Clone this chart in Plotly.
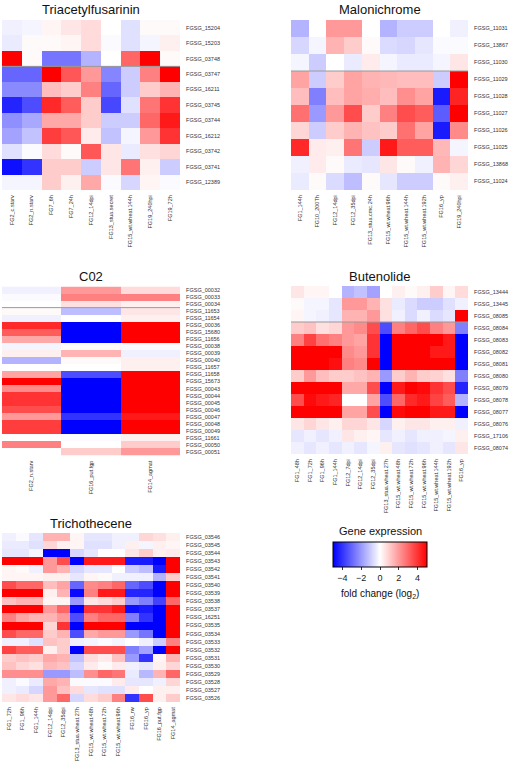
import plotly.graph_objects as go

W, H = 512, 766

# ---------------- data ----------------
tri_title = "Triacetylfusarinin"
tri_cols = ["FG2_c.starv", "FG2_n.starv", "FG7_6h", "FG7_24h", "FG12_14dpi",
            "FG13_stua.secret", "FG15_wt.wheat.144h", "FG19_240hpi", "FG19_72h"]
tri_rows = ["FGSG_15204", "FGSG_15203", "FGSG_03748", "FGSG_03747", "FGSG_16211",
            "FGSG_03745", "FGSG_03744", "FGSG_16212", "FGSG_03742", "FGSG_03741", "FGSG_12389"]
tri_vals = [
    [-0.3, -0.2, 0.2, 0.5, 0.7, 0.0, -0.6, 0.1, 0.1],
    [-0.4, 0.1, 0.1, 0.2, 0.7, -0.1, -0.6, -0.2, 0.3],
    [5.0, 0.1, -2.7, -2.7, -1.5, 0.0, 3.0, 5.0, 0.1],
    [-3.0, -3.0, 5.0, 3.3, 2.0, -2.4, -1.0, 2.5, 5.0],
    [-2.3, -2.3, 1.3, 1.0, 2.5, -3.0, -1.0, 1.0, 1.5],
    [-4.3, -3.5, 4.2, 3.2, 1.0, -3.6, -0.6, 2.7, 4.0],
    [-2.2, -1.7, 1.7, 1.7, 1.0, -1.0, -1.0, 3.0, 4.5],
    [-1.8, -1.2, 3.8, 3.3, 0.4, -1.2, -0.2, 2.0, 4.0],
    [-0.6, -0.1, 0.7, 0.1, 3.3, 0.5, -0.4, 0.6, 0.8],
    [-4.7, -4.0, 1.0, 1.0, -1.0, 0.5, 2.7, 0.3, -1.0],
    [-0.2, -0.2, 1.0, 0.3, 1.7, -0.1, -0.8, 0.2, -0.1],
]

mal_title = "Malonichrome"
mal_cols = ["FG1_144h", "FG10_200Th", "FG12_14dpi", "FG12_35dpi", "FG13_stua.cmc.24h",
            "FG15_wt.wheat.96h", "FG15_wt.wheat.144h", "FG15_wt.wheat.192h", "FG16_yp", "FG19_240hpi"]
mal_rows = ["FGSG_11031", "FGSG_13867", "FGSG_11030", "FGSG_11029", "FGSG_11028",
            "FGSG_11027", "FGSG_11026", "FGSG_11025", "FGSG_13868", "FGSG_11024"]
mal_vals = [
    [-1.5, 0.0, 2.0, 2.0, 0.0, -1.5, -1.0, -1.0, 0.0, -0.3],
    [-0.8, -0.2, 1.5, 1.0, 0.1, -0.7, -0.8, -0.5, -0.1, -0.1],
    [-0.2, -1.0, 0.0, -0.4, 0.4, -0.2, -0.4, -0.4, -0.2, 0.5],
    [1.8, -1.0, 1.0, 1.8, 1.5, 1.4, 1.3, 1.3, -1.0, 5.0],
    [1.3, -2.5, 1.3, 1.8, 1.6, 1.3, 2.2, 1.8, -4.5, 4.3],
    [2.8, -2.0, 2.0, 3.5, 1.0, 2.5, 3.5, 3.2, -3.2, 5.0],
    [0.8, -1.0, 1.0, 1.5, 1.2, 1.0, 2.8, 1.8, -4.5, 2.3],
    [4.2, 0.4, 0.3, 2.7, -1.0, 4.5, 3.2, 3.2, 1.4, -0.2],
    [-0.3, 0.4, 0.1, -0.4, -0.5, 0.5, 0.1, -0.3, 1.5, 0.8],
    [-0.4, 0.1, -0.7, -1.3, 0.1, -0.5, -1.0, -1.0, 0.1, 0.3],
]

c02_title = "C02"
c02_cols = ["FG2_n.starv", "FG16_put.fgp", "FG14_agmat"]
c02_rows = ["FGSG_00032", "FGSG_00033", "FGSG_00034", "FGSG_11653", "FGSG_11654",
            "FGSG_00036", "FGSG_15680", "FGSG_11656", "FGSG_00038", "FGSG_00039",
            "FGSG_00040", "FGSG_11657", "FGSG_11658", "FGSG_15673", "FGSG_00043",
            "FGSG_00044", "FGSG_00045", "FGSG_00046", "FGSG_00047", "FGSG_00048",
            "FGSG_00049", "FGSG_11661", "FGSG_00050", "FGSG_00051"]
c02_vals = [
    [-0.3, 2.0, 0.7],
    [-0.1, 2.5, 2.5],
    [0.0, 0.6, 0.3],
    [0.1, -1.3, 0.5],
    [-0.3, 0.0, 0.3],
    [4.2, -5.0, 5.0],
    [3.2, -5.0, 5.0],
    [1.7, -5.0, 5.0],
    [-0.2, 0.1, -0.1],
    [0.3, 1.5, -0.3],
    [-1.5, 0.1, 0.3],
    [0.0, 0.0, 0.3],
    [1.8, -3.5, 5.0],
    [5.0, -5.0, 5.0],
    [2.3, -5.0, 5.0],
    [4.0, -5.0, 5.0],
    [4.0, -5.0, 5.0],
    [3.5, -5.0, 5.0],
    [2.0, -4.0, 4.5],
    [3.8, -5.0, 5.0],
    [3.8, -5.0, 5.0],
    [0.0, -0.1, 0.3],
    [2.5, 0.0, 1.0],
    [0.0, 1.0, 2.0],
]

but_title = "Butenolide"
but_cols = ["FG1_48h", "FG1_72h", "FG1_96h", "FG1_144h", "FG12_7dpi", "FG12_14dpi",
            "FG12_35dpi", "FG13_stua.wheat.27h", "FG15_wt.wheat.48h", "FG15_wt.wheat.72h",
            "FG15_wt.wheat.96h", "FG15_wt.wheat.144h", "FG15_wt.wheat.192h", "FG16_yp"]
but_rows = ["FGSG_13444", "FGSG_13445", "FGSG_08085", "FGSG_08084", "FGSG_08083",
            "FGSG_08082", "FGSG_08081", "FGSG_08080", "FGSG_08079", "FGSG_08078",
            "FGSG_08077", "FGSG_08076", "FGSG_17106", "FGSG_08074"]
but_vals = [
    [0.5, 0.2, 0.2, 0.0, -1.5, -1.2, -1.8, 0.0, 0.3, 0.1, 0.3, 1.0, 0.2, 0.7],
    [0.1, -0.2, -0.2, -0.5, 2.0, 2.0, 1.5, 0.6, -0.4, -0.7, -1.0, -1.0, -0.6, -0.3],
    [0.2, -0.2, -0.3, -0.5, 1.5, 1.5, 2.0, 0.6, -0.3, -0.7, -0.3, -0.7, -0.5, 5.0],
    [1.0, 1.2, 0.6, 0.8, 2.0, 2.3, 3.5, -3.5, 2.5, 3.0, 3.5, 2.5, 2.0, -2.5],
    [2.5, 3.7, 2.8, 2.5, 2.0, 1.8, 4.0, -5.0, 5.0, 5.0, 5.0, 5.0, 4.5, -5.0],
    [5.0, 5.0, 5.0, 5.0, 2.3, 2.0, 4.0, -5.0, 5.0, 5.0, 5.0, 4.5, 4.5, -5.0],
    [5.0, 5.0, 5.0, 4.7, 2.5, 2.3, 5.0, -5.0, 5.0, 5.0, 5.0, 5.0, 5.0, -5.0],
    [1.0, 2.0, 1.3, 1.0, 1.0, 1.2, 1.5, -2.0, 1.0, 1.5, 1.0, 0.9, 0.6, -2.5],
    [5.0, 5.0, 5.0, 5.0, 1.7, 1.7, 3.5, -5.0, 4.5, 5.0, 4.8, 4.0, 3.5, -4.3],
    [3.5, 4.8, 4.5, 4.3, 0.0, 0.0, 1.8, -3.5, 3.0, 4.2, 4.5, 3.7, 3.2, -1.5],
    [5.0, 5.0, 5.0, 5.0, 1.8, 1.8, 3.5, -5.0, 4.8, 5.0, 5.0, 4.5, 4.5, -5.0],
    [0.5, 0.8, 0.5, 0.3, 0.8, 0.8, 0.5, -0.8, 0.3, 0.5, 0.5, 0.3, 0.3, -0.3],
    [-0.5, -0.3, -0.5, -0.3, 0.5, 0.3, 0.2, -0.5, -0.3, -0.5, -0.3, -0.3, -0.2, 0.3],
    [-0.3, -0.5, -0.3, -0.5, -0.3, -0.5, -0.2, 0.3, -0.5, -0.6, -0.5, -0.3, -0.5, 0.5],
]

tric_title = "Trichothecene"
tric_cols = ["FG1_72h", "FG1_96h", "FG1_144h", "FG12_14dpi", "FG12_35dpi",
             "FG13_stua.wheat.27h", "FG15_wt.wheat.48h", "FG15_wt.wheat.72h",
             "FG15_wt.wheat.96h", "FG16_rw", "FG16_yp", "FG16_put.fgp", "FG14_agmat"]
tric_rows = ["FGSG_03546", "FGSG_03545", "FGSG_03544", "FGSG_03543", "FGSG_03542",
             "FGSG_03541", "FGSG_03540", "FGSG_03539", "FGSG_03538", "FGSG_03537",
             "FGSG_16251", "FGSG_03535", "FGSG_03534", "FGSG_03533", "FGSG_03532",
             "FGSG_03531", "FGSG_03530", "FGSG_03529", "FGSG_03528", "FGSG_03527", "FGSG_03526"]
tric_vals = [
    [-0.3, -0.1, -0.5, 1.5, 1.5, 0.2, -0.5, -0.5, -0.3, -0.3, 0.8, 0.6, 0.3],
    [-0.4, -0.4, -0.6, 0.8, 0.3, 0.2, -0.6, -0.6, -0.3, 0.3, -0.2, 0.3, 0.2],
    [-0.5, -0.5, -0.2, -5.0, -5.0, -0.8, -0.5, 0.0, 0.0, 0.5, 1.0, 0.3, 0.4],
    [5.0, 5.0, 5.0, 2.0, 3.5, -5.0, 4.5, 4.5, 4.5, -4.5, -4.5, -5.0, 5.0],
    [0.2, 0.1, -0.3, 2.0, 1.5, -0.8, -0.5, -0.5, 0.0, -1.0, -1.3, -4.5, 5.0],
    [0.2, 0.2, 0.2, 0.3, 0.3, -0.5, 0.2, 0.1, -0.3, -0.3, -0.3, -1.5, 1.0],
    [3.5, 3.0, 3.0, 1.3, 1.8, -3.0, 2.3, 2.5, 3.0, -3.0, -3.5, -5.0, 5.0],
    [5.0, 5.0, 5.0, 0.3, 1.5, -4.8, 2.5, 4.5, 4.5, -4.3, -4.3, -5.0, 5.0],
    [1.2, 1.5, 1.5, 0.2, 0.2, -2.0, 0.5, 0.7, 1.0, -2.0, -2.5, -3.7, 3.0],
    [5.0, 5.0, 5.0, 2.0, 3.0, -5.0, 4.0, 4.0, 4.5, -4.7, -4.5, -5.0, 5.0],
    [2.5, 1.8, 1.5, 1.5, 2.0, -3.5, 2.5, 3.0, 3.0, -2.5, -4.0, -5.0, 5.0],
    [5.0, 5.0, 5.0, 0.8, 4.0, -5.0, 5.0, 5.0, 5.0, -5.0, -5.0, -5.0, 5.0],
    [3.5, 3.0, 3.0, 1.0, 1.5, -3.5, 1.7, 2.0, 2.0, -2.0, -2.7, -5.0, 5.0],
    [-0.3, -0.3, -0.6, 1.2, 1.0, -0.3, -0.2, -0.1, -0.2, 0.0, -0.3, -1.0, 2.5],
    [3.7, 3.2, 3.2, 0.3, 1.0, -5.0, 3.5, 3.5, 3.5, -2.5, -1.8, -5.0, 5.0],
    [1.0, 1.2, 1.0, 1.7, 1.5, -1.2, 0.7, 0.4, 1.2, -2.0, -4.0, 0.2, 1.5],
    [1.2, 0.8, 0.6, 1.4, 1.2, -0.8, 0.4, 0.1, 0.4, -0.3, -0.5, 0.3, 0.8],
    [2.2, 2.2, 2.2, -2.0, -2.0, -1.3, 2.2, 3.0, 2.7, -0.4, -1.4, 1.5, 3.0],
    [-0.3, -0.1, -0.4, 1.7, 1.5, -0.1, -0.1, -0.1, 0.4, -0.5, -0.5, -0.3, 0.8],
    [-0.3, -0.4, -0.8, 2.0, 1.2, 0.7, -0.5, -0.6, -0.6, 0.4, 0.0, 0.3, 0.3],
    [0.5, 0.7, 0.5, 2.0, 3.0, -0.8, 0.7, 1.0, 2.5, -4.0, 3.5, 0.3, 1.0],
]

cbar_ticks = [-4, -2, 0, 2, 4]

# ---------------- layout (pixel boxes) ----------------
panels = [
    (tri_title, tri_cols, tri_rows, tri_vals, (2, 180, 20, 190), 3),
    (mal_title, mal_cols, mal_rows, mal_vals, (291, 468, 20, 190), 3),
    (c02_title, c02_cols, c02_rows, c02_vals, (2, 180, 286.5, 455.5), 3),
    (but_title, but_cols, but_rows, but_vals, (291, 468, 286, 454), 3),
    (tric_title, tric_cols, tric_rows, tric_vals, (2, 180, 533, 702), None),
]

FONT = "Liberation Sans, Arial, Helvetica, sans-serif"
fig = go.Figure()
layout = dict(
    width=W, height=H, margin=dict(l=0, r=0, t=0, b=0),
    paper_bgcolor="white", plot_bgcolor="white",
    font=dict(family=FONT, color="#333"),
    showlegend=False,
    coloraxis=dict(
        cmin=-5, cmax=5,
        colorscale=[[0, "rgb(0,0,255)"], [0.5, "rgb(255,255,255)"], [1, "rgb(255,0,0)"]],
        colorbar=dict(
            orientation="h", x=380 / W, xanchor="center", y=1 - 542 / H, yanchor="top",
            len=94, lenmode="pixels", thickness=25, thicknessmode="pixels",
            xpad=0, ypad=0, outlinecolor="black", outlinewidth=1,
            tickvals=cbar_ticks, ticks="outside", ticklen=3, tickcolor="#333",
            tickfont=dict(size=9, color="#222", family=FONT),
        ),
    ),
)
annotations = []
shapes = []

for i, (title, cols, rows, vals, (x0, x1, y0, y1), div) in enumerate(panels):
    k = "" if i == 0 else str(i + 1)
    fig.add_trace(go.Heatmap(
        z=vals, x=list(range(len(cols))), y=list(range(len(rows))),
        coloraxis="coloraxis", xaxis="x" + k, yaxis="y" + k,
        xgap=0, ygap=0, hoverinfo="z",
    ))
    layout["xaxis" + k] = dict(
        domain=[x0 / W, x1 / W], anchor="y" + k,
        range=[-0.5, len(cols) - 0.5], tickvals=list(range(len(cols))), ticktext=cols,
        tickangle=-90, tickfont=dict(size=5.5, color="#333"), showgrid=False, zeroline=False,
        ticks="outside", ticklen=2, tickcolor="rgba(0,0,0,0)", showline=False, fixedrange=True,
    )
    layout["yaxis" + k] = dict(
        domain=[1 - y1 / H, 1 - y0 / H], anchor="x" + k, side="right",
        range=[len(rows) - 0.5, -0.5], tickvals=list(range(len(rows))), ticktext=rows,
        tickfont=dict(size=5.5, color="#333"), showgrid=False, zeroline=False,
        ticks="outside", ticklen=4, tickcolor="rgba(0,0,0,0)", showline=False, fixedrange=True,
    )
    annotations.append(dict(
        text=title, x=(x0 + x1) / 2 / W, y=1 - (y0 - 10) / H, xref="paper", yref="paper",
        xanchor="center", yanchor="middle", showarrow=False,
        font=dict(size=13, color="#111", family=FONT),
    ))
    if div is not None:
        shapes.append(dict(
            type="line", xref="x" + k + " domain", yref="y" + k,
            x0=0, x1=1, y0=div - 0.5, y1=div - 0.5,
            line=dict(color="#9a9a9a", width=1),
        ))

annotations.append(dict(
    text="Gene expression", x=380 / W, y=1 - 531 / H, xref="paper", yref="paper",
    xanchor="center", yanchor="middle", showarrow=False,
    font=dict(size=11, color="#111", family=FONT),
))
annotations.append(dict(
    text="fold change (log<sub>2</sub>)", x=380 / W, y=1 - 594 / H, xref="paper", yref="paper",
    xanchor="center", yanchor="middle", showarrow=False,
    font=dict(size=10, color="#111", family=FONT),
))

layout["annotations"] = annotations
layout["shapes"] = shapes
fig.update_layout(**layout)
fig.write_html(
    "out.html",
    config={"displayModeBar": False},
    post_script="document.body.style.margin='0';document.body.style.overflow='hidden';",
)
